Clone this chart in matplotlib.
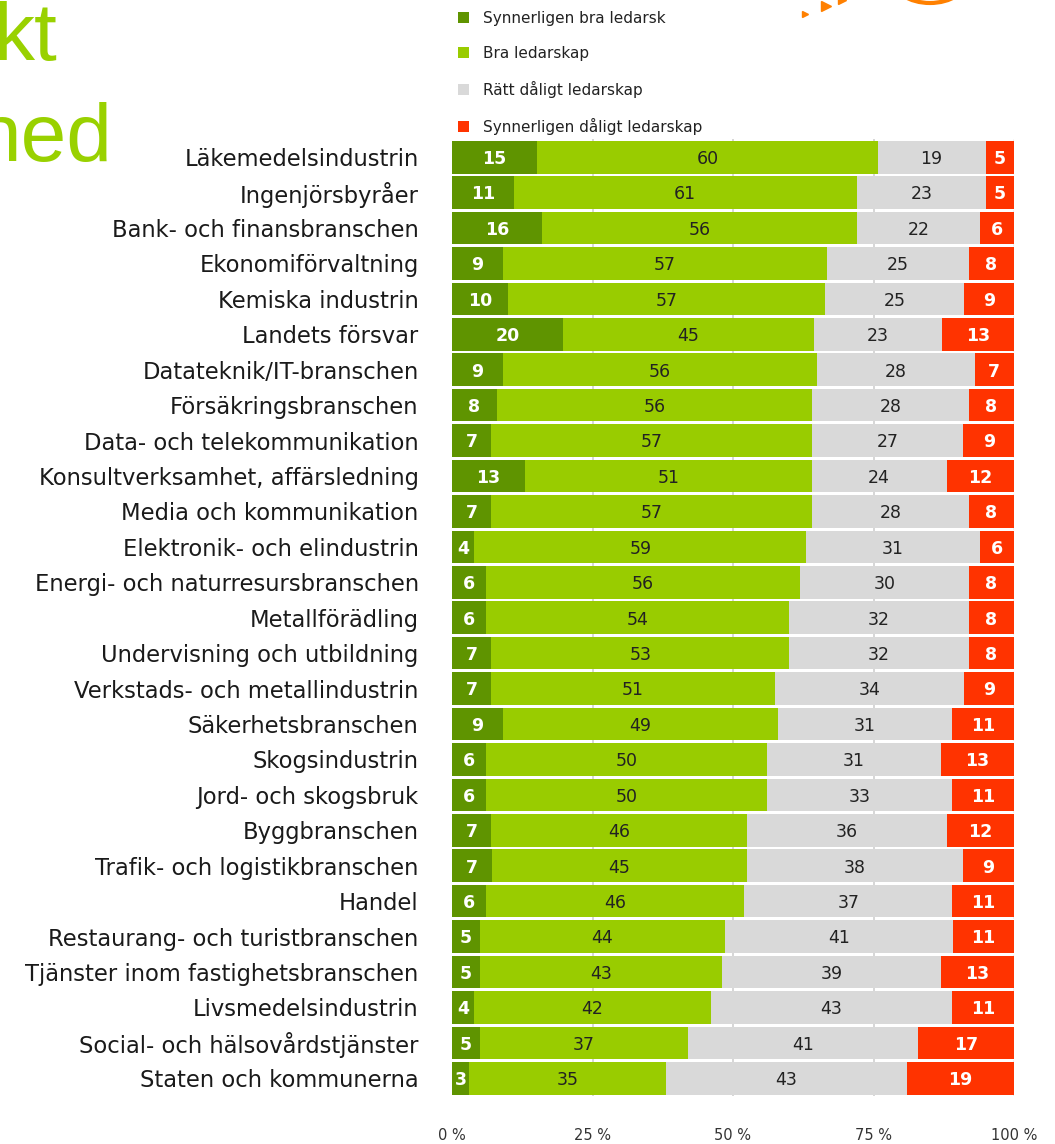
import matplotlib
matplotlib.use("Agg")
import matplotlib.pyplot as plt
from matplotlib.patches import Ellipse, Patch
import numpy as np

categories = [
    "Läkemedelsindustrin", "Ingenjörsbyråer", "Bank- och finansbranschen",
    "Ekonomiförvaltning", "Kemiska industrin", "Landets försvar",
    "Datateknik/IT-branschen", "Försäkringsbranschen", "Data- och telekommunikation",
    "Konsultverksamhet, affärsledning", "Media och kommunikation",
    "Elektronik- och elindustrin", "Energi- och naturresursbranschen",
    "Metallförädling", "Undervisning och utbildning", "Verkstads- och metallindustrin",
    "Säkerhetsbranschen", "Skogsindustrin", "Jord- och skogsbruk", "Byggbranschen",
    "Trafik- och logistikbranschen", "Handel", "Restaurang- och turistbranschen",
    "Tjänster inom fastighetsbranschen", "Livsmedelsindustrin",
    "Social- och hälsovårdstjänster", "Staten och kommunerna",
]
synnerligen_bra = [15, 11, 16, 9, 10, 20, 9, 8, 7, 13, 7, 4, 6, 6, 7, 7, 9, 6, 6, 7, 7, 6, 5, 5, 4, 5, 3]
bra = [60, 61, 56, 57, 57, 45, 56, 56, 57, 51, 57, 59, 56, 54, 53, 51, 49, 50, 50, 46, 45, 46, 44, 43, 42, 37, 35]
ratt_daligt = [19, 23, 22, 25, 25, 23, 28, 28, 27, 24, 28, 31, 30, 32, 32, 34, 31, 31, 33, 36, 38, 37, 41, 39, 43, 41, 43]
synnerligen_daligt = [5, 5, 6, 8, 9, 13, 7, 8, 9, 12, 8, 6, 8, 8, 8, 9, 11, 13, 11, 12, 9, 11, 11, 13, 11, 17, 19]

series_names = ["Synnerligen bra ledarsk", "Bra ledarskap", "Rätt dåligt ledarskap", "Synnerligen dåligt ledarskap"]
colors = ["#5f9400", "#99cc00", "#d9d9d9", "#ff3300"]
text_colors = ["white", "#222222", "#222222", "white"]
xticks = [0, 25, 50, 75, 100]
xticklabels = ["0 %", "25 %", "50 %", "75 %", "100 %"]

W, H = 1055, 1144
fig = plt.figure(figsize=(W / 100, H / 100), dpi=100)
ax = fig.add_axes([452 / W, 1 - 1096 / H, (1014 - 452) / W, (1096 - 139.5) / H])

data = np.array([synnerligen_bra, bra, ratt_daligt, synnerligen_daligt], dtype=float)
totals = data.sum(axis=0)
shares = data / totals * 100
y = np.arange(len(categories))

for gx in [25, 50, 75]:
    ax.axvline(gx, color="#cfcfcf", lw=1.2, zorder=0)
ax.axvline(100, color="#aaaaaa", lw=1, ls=(0, (2, 2)), zorder=0)

left = np.zeros(len(categories))
handles = []
for i in range(4):
    ax.barh(y, shares[i], left=left, height=0.92, color=colors[i], zorder=2, linewidth=0)
    handles.append(Patch(facecolor=colors[i], label=series_names[i]))
    for j in range(len(categories)):
        cx = left[j] + shares[i][j] / 2
        ax.text(cx, y[j] + 0.05, f"{int(data[i][j])}", ha="center", va="center",
                fontsize=12.5, color=text_colors[i],
                fontweight="bold" if text_colors[i] == "white" else "normal", zorder=3)
    left += shares[i]

ax.set_xlim(0, 100)
ax.set_ylim(len(categories) - 0.5, -0.5)
ax.set_yticks(y)
ax.set_yticklabels(categories, fontsize=16.3, color="#1a1a1a")
ax.set_xticks(xticks)
ax.set_xticklabels(xticklabels, fontsize=10.5, color="#333333")
ax.tick_params(axis="y", length=0, pad=24)
ax.tick_params(axis="x", length=0, pad=23)
for s in ax.spines.values():
    s.set_visible(False)

fig.legend(handles=handles, loc="upper left", bbox_to_anchor=(452 / W, 1 - 5 / H),
           frameon=False, fontsize=11, handlelength=0.7, handleheight=0.7,
           labelspacing=1.3, handletextpad=0.9, borderaxespad=0, labelcolor="#222222")

# Partially cropped title text at top-left (cropped in the reference as well)
green = "#99d100"
fig.text(57 / W, 1 - 60 / H, "kt", ha="right", va="baseline", fontsize=59,
         color=green, family="Liberation Sans")
fig.text(112 / W, 1 - 161 / H, "ned", ha="right", va="baseline", fontsize=59,
         color=green, family="Liberation Sans")

# Decorative orange shapes at top right
orange = "#ff8000"
e = Ellipse((930 / W, 1 + 22 / H), 76 / W, 50 / H, transform=fig.transFigure,
            fill=False, edgecolor=orange, lw=3)
fig.add_artist(e)
for (px, py, ms) in [(805, 14, 5), (826, 6, 7), (842, 0, 6)]:
    fig.add_artist(plt.Line2D([px / W], [1 - py / H], marker=">", color=orange,
                              markersize=ms, transform=fig.transFigure, linestyle="none"))

fig.savefig("out.png", dpi=100, facecolor="white")
